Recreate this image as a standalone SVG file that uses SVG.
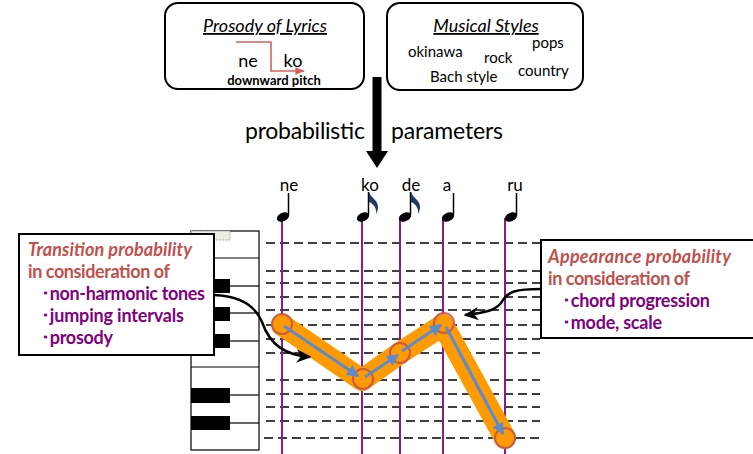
<svg xmlns="http://www.w3.org/2000/svg" width="753" height="454" viewBox="0 0 753 454">
<style>
text{font-family:Lato,"Liberation Sans",sans-serif;fill:#000}
.box{fill:#fff;stroke:#000;stroke-width:2}
.dash{stroke:#000;stroke-width:1.6;stroke-dasharray:9,5}
.vl{stroke:#8B1A8B;stroke-width:2}
.wl{stroke:#000;stroke-width:1.2}
.bk{fill:#000}
.red{fill:#C0504D}
.pur{fill:#800080}
.head{fill:#000}
.flag{fill:#1F3864}
.circ{fill:none;stroke:#C0504D;stroke-width:2;stroke-opacity:0.85}
.blue{stroke:#5B8BD0;stroke-width:3;fill:none}
.st{font-size:15px}
.nl{font-size:17px}
.bx{font-size:18px;font-weight:bold}
</style>
<defs>
<marker id="ba" viewBox="0 0 10 10" refX="9" refY="5" markerWidth="4" markerHeight="4" orient="auto"><path d="M0,0L10,5L0,10z" fill="#5B8BD0"/></marker>
<marker id="ka" viewBox="0 0 10 10" refX="9" refY="5" markerWidth="6" markerHeight="6" orient="auto"><path d="M0,0.5L10,5L0,9.5L3,5z" fill="#000"/></marker>
<marker id="ra" viewBox="0 0 10 10" refX="9" refY="5" markerWidth="6" markerHeight="6" orient="auto"><path d="M0,1L10,5L0,9z" fill="#D9605A"/></marker>
</defs>

<g id="prosody">
<rect class="box" x="165" y="3" width="199" height="86" rx="13"/>
<text x="265" y="32" font-size="18" font-style="italic" text-anchor="middle" text-decoration="underline">Prosody of Lyrics</text>
<text x="248" y="67" font-size="18" text-anchor="middle">ne</text>
<text x="293" y="67" font-size="18" text-anchor="middle">ko</text>
<path d="M236,42H271V71H304" fill="none" stroke="#D9605A" stroke-width="1.6" marker-end="url(#ra)"/>
<text x="274" y="85" font-size="13" font-weight="bold" text-anchor="middle">downward pitch</text>
</g>

<g id="styles">
<rect class="box" x="387" y="3" width="196" height="87" rx="13"/>
<text x="486" y="32" font-size="18" font-style="italic" text-anchor="middle" text-decoration="underline">Musical Styles</text>
<text x="408" y="57" class="st">okinawa</text>
<text x="484" y="63" class="st">rock</text>
<text x="532" y="48" class="st">pops</text>
<text x="430" y="82" class="st">Bach style</text>
<text x="518" y="76" class="st">country</text>
</g>

<g id="param">
<path d="M377,77V152" stroke="#000" stroke-width="9"/>
<path d="M366,151H388L377,168z" fill="#000"/>
<text x="245" y="139" font-size="23" textLength="120">probabilistic</text>
<text x="391" y="139" font-size="23" textLength="112">parameters</text>
</g>

<g id="piano">
<rect x="191" y="231" width="68" height="219" fill="#fff" stroke="#000" stroke-width="1.2"/>
<rect x="191" y="231" width="39" height="9" fill="#EEEBE0" stroke="#999" stroke-width="0.8" stroke-dasharray="2,1"/>
<line class="wl" x1="191" y1="258" x2="259" y2="258"/>
<line class="wl" x1="230" y1="286" x2="259" y2="286"/>
<line class="wl" x1="230" y1="313" x2="259" y2="313"/>
<line class="wl" x1="230" y1="341" x2="259" y2="341"/>
<line class="wl" x1="191" y1="367" x2="259" y2="367"/>
<line class="wl" x1="230" y1="395" x2="259" y2="395"/>
<line class="wl" x1="230" y1="423" x2="259" y2="423"/>
<rect class="bk" x="191" y="279" width="39" height="14"/>
<rect class="bk" x="191" y="307" width="39" height="14"/>
<rect class="bk" x="191" y="334" width="39" height="14"/>
<rect class="bk" x="191" y="388" width="39" height="15"/>
<rect class="bk" x="191" y="416" width="39" height="14"/>
</g>

<g id="staff">
<line class="dash" x1="266" y1="243" x2="540" y2="243"/>
<line class="dash" x1="266" y1="271" x2="540" y2="271"/>
<line class="dash" x1="266" y1="283" x2="540" y2="283"/>
<line class="dash" x1="266" y1="297" x2="540" y2="297"/>
<line class="dash" x1="266" y1="310" x2="540" y2="310"/>
<line class="dash" x1="266" y1="325" x2="540" y2="325"/>
<line class="dash" x1="266" y1="339" x2="540" y2="339"/>
<line class="dash" x1="266" y1="353" x2="540" y2="353"/>
<line class="dash" x1="266" y1="380" x2="540" y2="380"/>
<line class="dash" x1="266" y1="394" x2="540" y2="394"/>
<line class="dash" x1="266" y1="407" x2="540" y2="407"/>
<line class="dash" x1="266" y1="421" x2="540" y2="421"/>
<line class="dash" x1="264" y1="438" x2="540" y2="438" stroke-width="2.2"/>
<line class="vl" x1="282" y1="218" x2="282" y2="454"/>
<line class="vl" x1="362" y1="218" x2="362" y2="454"/>
<line class="vl" x1="400" y1="218" x2="400" y2="454"/>
<line class="vl" x1="443" y1="218" x2="443" y2="454"/>
<line class="vl" x1="505" y1="218" x2="505" y2="454"/>
</g>

<g id="notes">
<text x="289" y="191" class="nl" text-anchor="middle">ne</text>
<text x="370" y="191" class="nl" text-anchor="middle">ko</text>
<text x="411" y="191" class="nl" text-anchor="middle">de</text>
<text x="447" y="191" class="nl" text-anchor="middle">a</text>
<text x="515" y="191" class="nl" text-anchor="middle">ru</text>
<ellipse class="head" cx="283" cy="217" rx="6.5" ry="4.2" transform="rotate(-25 283 217)"/>
<line x1="288.5" y1="215" x2="288.5" y2="193" stroke="#000" stroke-width="1.5"/>
<ellipse class="head" cx="363" cy="217" rx="6.5" ry="4.2" transform="rotate(-25 363 217)"/>
<line x1="368.5" y1="215" x2="368.5" y2="192" stroke="#000" stroke-width="1.5"/>
<path class="flag" d="M369,192C371,198 378,200 378,207C378,210 377,212 376,214C377,207 372,203 369,202z"/>
<ellipse class="head" cx="405" cy="217" rx="6.5" ry="4.2" transform="rotate(-25 405 217)"/>
<line x1="410.5" y1="215" x2="410.5" y2="192" stroke="#000" stroke-width="1.5"/>
<path class="flag" d="M411,192C413,198 420,200 420,207C420,210 419,212 418,214C419,207 414,203 411,202z"/>
<ellipse class="head" cx="448" cy="217" rx="6.5" ry="4.2" transform="rotate(-25 448 217)"/>
<line x1="453.5" y1="215" x2="453.5" y2="193" stroke="#000" stroke-width="1.5"/>
<ellipse class="head" cx="511" cy="217" rx="6.5" ry="4.2" transform="rotate(-25 511 217)"/>
<line x1="516.5" y1="215" x2="516.5" y2="193" stroke="#000" stroke-width="1.5"/>
</g>

<g id="melody">
<polyline points="282,325 362,380 400,353 443,325 505,438" fill="none" stroke="#FF9A00" stroke-width="22" stroke-linejoin="round" stroke-linecap="round"/>
<circle class="circ" cx="282" cy="324" r="10"/>
<circle class="circ" cx="363" cy="379" r="10"/>
<circle class="circ" cx="400" cy="353" r="10"/>
<circle class="circ" cx="444" cy="323" r="10"/>
<circle class="circ" cx="505" cy="438" r="10"/>
</g>

<g id="connectors">
<line class="blue" x1="284" y1="326" x2="358" y2="376" marker-end="url(#ba)"/>
<line class="blue" x1="365" y1="377" x2="398" y2="355" marker-end="url(#ba)"/>
<line class="blue" x1="402" y1="351" x2="441" y2="325" marker-end="url(#ba)"/>
<line class="blue" x1="446" y1="327" x2="503" y2="434" marker-end="url(#ba)"/>
<path d="M214,295C240,296 255,305 262,322C270,345 285,355 310,357" fill="none" stroke="#000" stroke-width="2.5" marker-end="url(#ka)"/>
<path d="M541,289C515,289 508,292 503,300C498,310 485,313 465,315" fill="none" stroke="#000" stroke-width="2.5" marker-end="url(#ka)"/>
</g>

<g id="transition">
<rect class="box" x="19" y="234" width="195" height="121"/>
<text x="28" y="256" class="bx red" font-style="italic" textLength="164">Transition probability</text>
<text x="28" y="278" class="bx red" textLength="142">in consideration of</text>
<text x="41" y="300" class="bx pur" textLength="164">･non-harmonic tones</text>
<text x="41" y="322" class="bx pur" textLength="143">･jumping intervals</text>
<text x="41" y="344" class="bx pur" textLength="72">･prosody</text>
</g>

<g id="appearance">
<rect class="box" x="541" y="240" width="220" height="98"/>
<text x="548" y="263" class="bx red" font-style="italic" textLength="183">Appearance probability</text>
<text x="548" y="285" class="bx red" textLength="142">in consideration of</text>
<text x="562" y="307" class="bx pur" textLength="148">･chord progression</text>
<text x="562" y="329" class="bx pur" textLength="100">･mode, scale</text>
</g>
</svg>
